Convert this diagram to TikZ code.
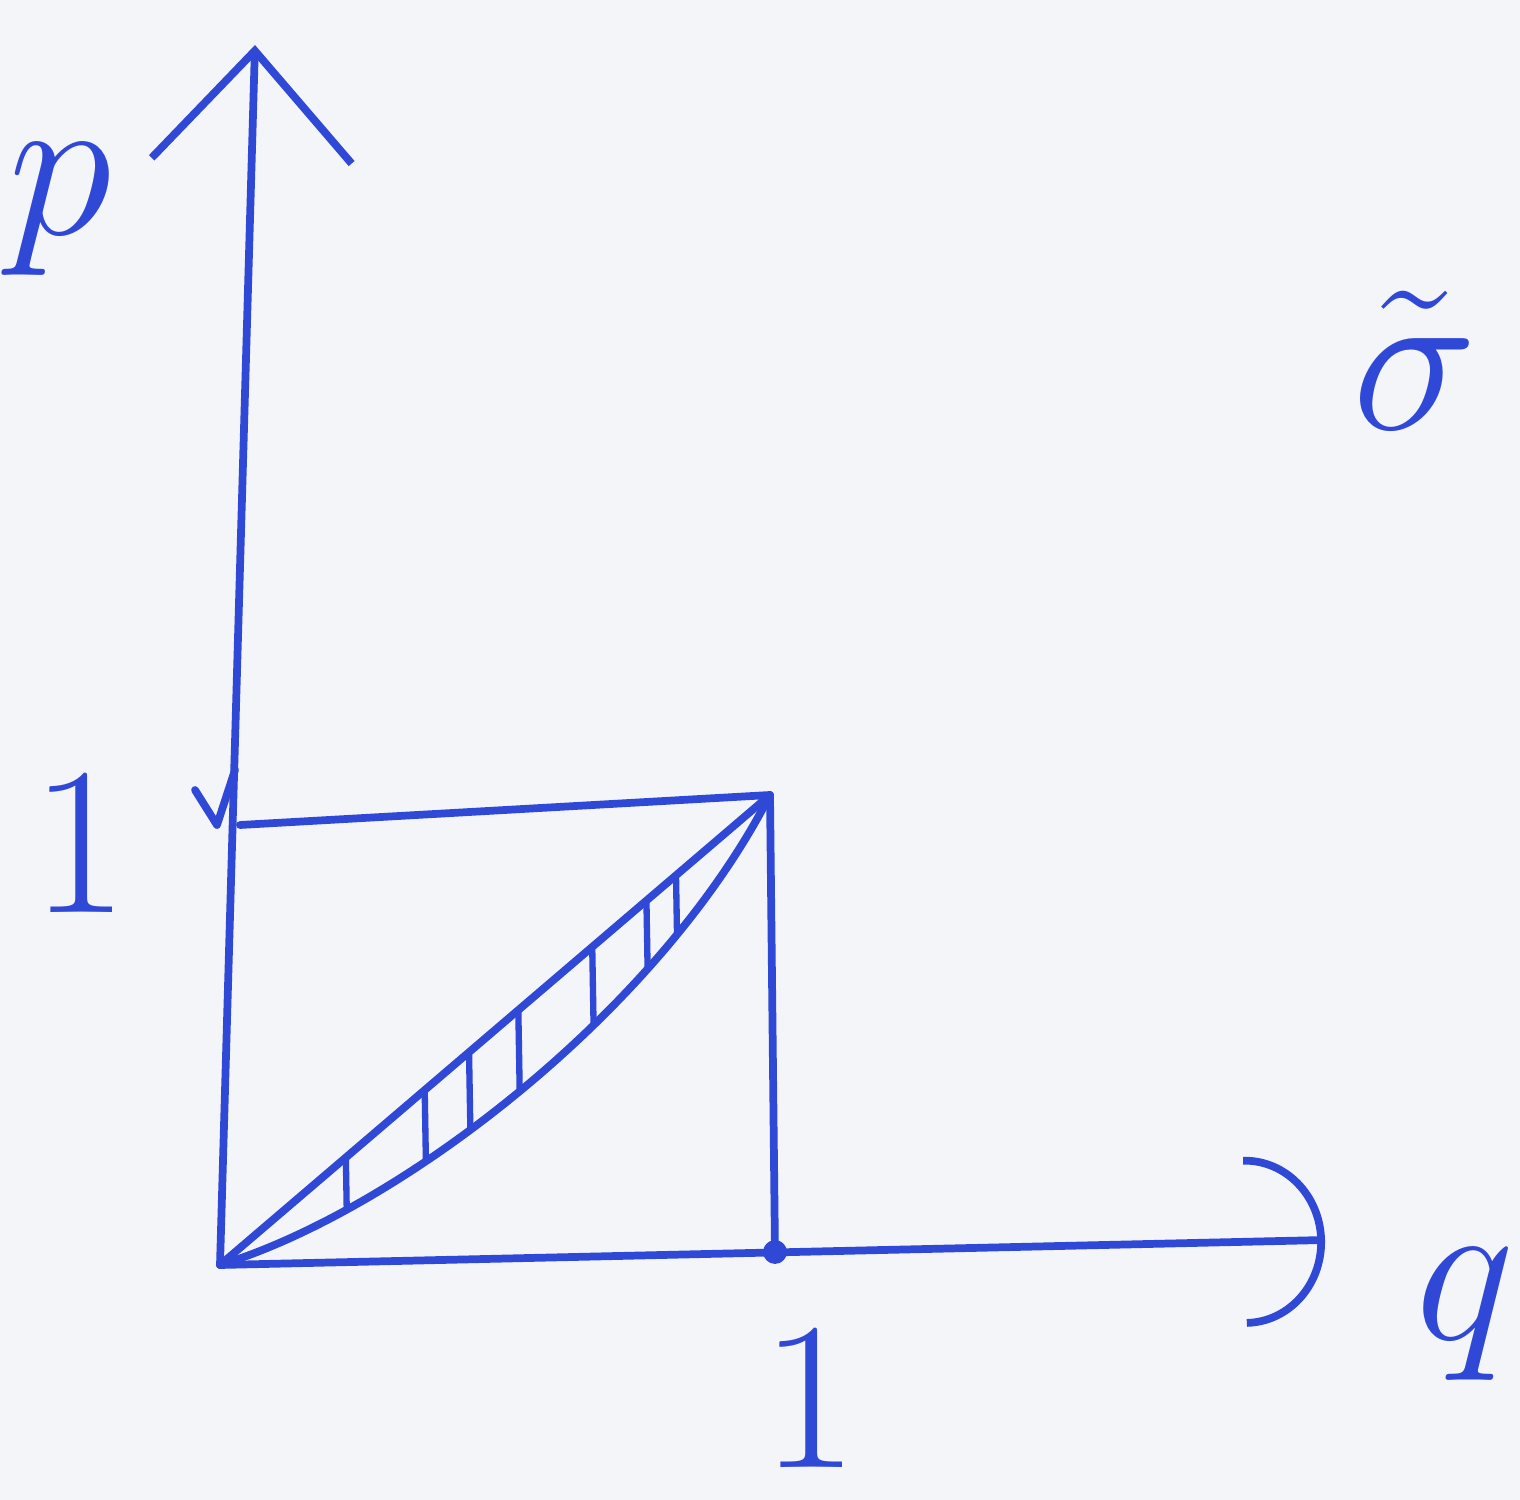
\RequirePackage{fix-cm}
\documentclass[tikz,border=0pt]{standalone}
\usepackage{tikz}
\usetikzlibrary{arrows.meta, positioning}
\definecolor{cP}{RGB}{48,72,214}
\definecolor{cBg}{RGB}{243,245,249}

\begin{document}
\begin{tikzpicture}[
    pen/.style={draw=cP, line width=2.2pt, line cap=round, line join=round},
    hatch/.style={draw=cP, line width=1.8pt, line cap=round},
    lbl/.style={text=cP, inner sep=0pt, font=\fontsize{60}{60}\selectfont}]
    % paper
    \fill[cBg] (0,0) rectangle (15.2,15);
    \useasboundingbox (0,0) rectangle (15.2,15);

    % Points
    \coordinate (O) at (2.2,2.35);
    \coordinate (ytip) at (2.55,14.55);
    \coordinate (xtip) at (13.25,2.6);
    \coordinate (yone) at (2.4,6.75);
    \coordinate (xone) at (7.75,2.48);
    \coordinate (C) at (7.7,7.05);

    % Axes
    \draw[pen, -{Straight Barb[length=11mm, width=20mm]}] (O) -- (ytip);
    \draw[pen, -{Arc Barb[length=8mm, width=17mm]}] (O) -- (xtip);

    % Ticks at 1
    \draw[pen] (1.95,7.1) -- (2.17,6.75) -- (2.35,7.3);
    \draw[pen] (xone) circle (0.08);

    % Unit square
    \draw[pen] (yone) -- (C) -- (xone);

    % Lens between diagonal and curve
    \draw[pen] (O) -- (C);
    \draw[pen] (O) .. controls (4.0,2.9) and (6.6,4.9) .. (C);
    \begin{scope}
        \clip (O) -- (C) .. controls (6.6,4.9) and (4.0,2.9) .. (O) -- cycle;
        \foreach \x in {3.5,4.3,4.75,5.25,6.0,6.55,6.85}
            \draw[hatch] (\x,1) -- (\x-0.12,8);
    \end{scope}

    % Labels
    \node[lbl] (p) at (0.6,12.9) {$p$};
    \node[lbl] (q) at (14.65,1.85) {$q$};
    \node[lbl] (sig) at (14.15,11.4) {$\tilde{\sigma}$};
    \node[lbl] (oney) at (0.8,6.55) {$1$};
    \node[lbl] (onex) at (8.1,1.0) {$1$};
\end{tikzpicture}
\end{document}
